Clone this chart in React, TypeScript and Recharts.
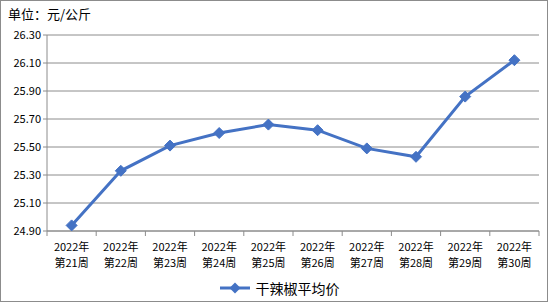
import React from "react";
import { LineChart, Line, XAxis, YAxis, CartesianGrid, Legend } from "recharts";

const categories = [
  "2022年\n第21周", "2022年\n第22周", "2022年\n第23周", "2022年\n第24周", "2022年\n第25周",
  "2022年\n第26周", "2022年\n第27周", "2022年\n第28周", "2022年\n第29周", "2022年\n第30周",
];
const prices = [24.94, 25.33, 25.51, 25.60, 25.66, 25.62, 25.49, 25.43, 25.86, 26.12];
const yTicks = [24.9, 25.1, 25.3, 25.5, 25.7, 25.9, 26.1, 26.3];
const xBoundaries = [0, 1, 2, 3, 4, 5, 6, 7, 8, 9, 10];
const seriesName = "干辣椒平均价";
const unitLabel = "单位：元/公斤";

const data = categories.map((c, i) => ({ pos: i + 0.5, label: c, value: prices[i] }));

const FONT = "'Noto Sans CJK SC', 'DejaVu Sans', sans-serif";
const GRID = "#8c8c8c";
const BLUE = "#4472C4";

const W = 548;
const H = 302;
const PLOT_LEFT = 47;
const PLOT_RIGHT = 539;
const BAND = (PLOT_RIGHT - PLOT_LEFT) / categories.length;

const Diamond = (props: any) => {
  const { cx, cy } = props;
  if (cx == null || cy == null) return null;
  const r = 5.5;
  return (
    <polygon
      points={`${cx},${cy - r} ${cx + r},${cy} ${cx},${cy + r} ${cx - r},${cy}`}
      fill={BLUE}
      stroke={BLUE}
    />
  );
};

const XTick = (props: any) => {
  const { x, y, payload } = props;
  const idx = payload.value as number;
  const label = idx < categories.length ? categories[idx] : null;
  const lines = label ? label.split("\n") : [];
  const cx = x + BAND / 2;
  return (
    <g>
      <line x1={x} y1={y - 8} x2={x} y2={y - 3} stroke={GRID} strokeWidth={1} />
      {lines.map((ln, i) => (
        <text
          key={i}
          x={cx}
          y={y + 11.5 + i * 16}
          textAnchor="middle"
          fontSize={11}
          fontFamily={FONT}
          fill="#000"
        >
          {ln}
        </text>
      ))}
    </g>
  );
};

const LegendContent = () => (
  <div
    style={{
      height: 29,
      display: "flex",
      justifyContent: "center",
      alignItems: "center",
      fontFamily: FONT,
      paddingLeft: 20,
      boxSizing: "border-box",
    }}
  >
    <svg width={30} height={14} style={{ marginRight: 6 }}>
      <line x1={0} y1={7} x2={30} y2={7} stroke={BLUE} strokeWidth={3} />
      <polygon points="15,1.5 20.5,7 15,12.5 9.5,7" fill={BLUE} />
    </svg>
    <span style={{ fontSize: 14, color: "#000" }}>{seriesName}</span>
  </div>
);

export default function App() {
  return (
    <div style={{ position: "absolute", left: 0, top: 0, width: W, height: H, background: "#fff" }}>
      <div
        style={{
          position: "absolute",
          left: 0,
          top: 0,
          width: W,
          height: H,
          boxSizing: "border-box",
          border: "1px solid #8c8c8c",
          pointerEvents: "none",
          zIndex: 2,
        }}
      />
      <div
        style={{
          position: "absolute",
          left: 8,
          top: 4,
          fontSize: 13,
          fontFamily: FONT,
          color: "#000",
          zIndex: 3,
        }}
      >
        {unitLabel}
      </div>
      <LineChart
        width={W}
        height={H}
        data={data}
        margin={{ top: 35, right: W - PLOT_RIGHT, bottom: 0, left: 0 }}
      >
        <CartesianGrid horizontal vertical={false} stroke={GRID} strokeWidth={1} />
        <XAxis
          dataKey="pos"
          type="number"
          domain={[0, 10]}
          ticks={xBoundaries}
          interval={0}
          tick={<XTick />}
          tickLine={false}
          axisLine={{ stroke: GRID }}
          height={42}
          allowDecimals
        />
        <YAxis
          type="number"
          domain={[24.9, 26.3]}
          ticks={yTicks}
          interval={0}
          width={PLOT_LEFT}
          tickFormatter={(v: number) => v.toFixed(2)}
          tick={{ fontSize: 11, fontFamily: FONT, fill: "#000" }}
          tickLine={{ stroke: GRID }}
          tickSize={4}
          axisLine={{ stroke: GRID }}
        />
        <Legend verticalAlign="bottom" content={<LegendContent />} />
        <Line
          type="linear"
          dataKey="value"
          name={seriesName}
          stroke={BLUE}
          strokeWidth={3}
          dot={<Diamond />}
          activeDot={false}
          isAnimationActive={false}
        />
      </LineChart>
    </div>
  );
}
